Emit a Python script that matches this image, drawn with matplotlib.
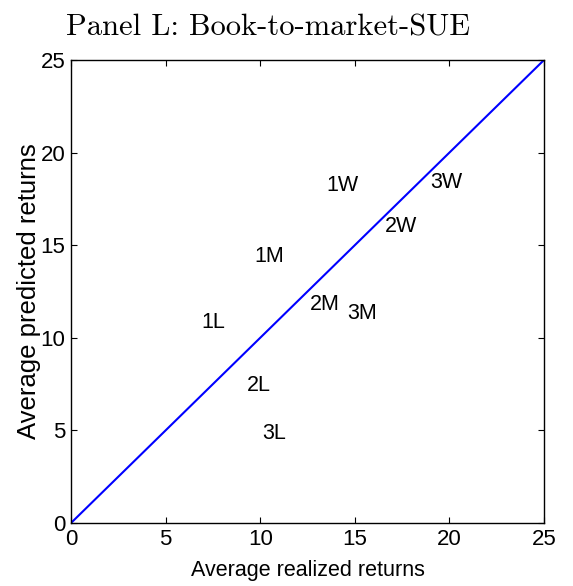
import numpy as np
import matplotlib
matplotlib.use('Agg')
import matplotlib.pyplot as plt

# Portfolio labels and their (realized, predicted) average returns
labels = ['1L', '2L', '3L', '1M', '2M', '3M', '1W', '2W', '3W']
realized = [6.9, 9.3, 10.1, 9.7, 12.6, 14.6, 13.5, 16.6, 19.0]
predicted = [10.85, 7.4, 4.85, 14.4, 11.8, 11.3, 18.25, 16.0, 18.4]

ticks = [0, 5, 10, 15, 20, 25]
diag = [0, 25]

plt.rcParams['font.family'] = ['Liberation Sans', 'DejaVu Sans']

fig = plt.figure(figsize=(5.73, 5.86), dpi=100)
ax = fig.add_axes([71 / 573, 1 - 523 / 586, 473 / 573, 463 / 586])

ax.plot(diag, diag, color='#0000ff', lw=1.5)
for lab, x, y in zip(labels, realized, predicted):
  ax.text(x, y, lab, ha='left', va='center', fontsize=15.5)

ax.set_xlim(0, 25)
ax.set_ylim(0, 25)
ax.set_xticks(ticks)
ax.set_yticks(ticks)
ax.tick_params(direction='in', top=True, right=True, length=4.5, width=0.8,
               labelsize=16, pad=4)
for s in ax.spines.values():
  s.set_linewidth(1.0)

ax.set_xlabel('Average realized returns', fontsize=15.5, labelpad=0)
ax.xaxis.set_label_coords(0.5, (523 - 560) / 463)
ax.set_ylabel('Average predicted returns', fontsize=18.5)
ax.yaxis.set_label_coords((41 - 71) / 473, 0.5)

fig.text(268.5 / 573, 1 - 36 / 586, 'Panel L: Book-to-market-SUE', family='cmr10',
         fontsize=22, ha='center', va='baseline')

fig.savefig('out.png', dpi=100)
